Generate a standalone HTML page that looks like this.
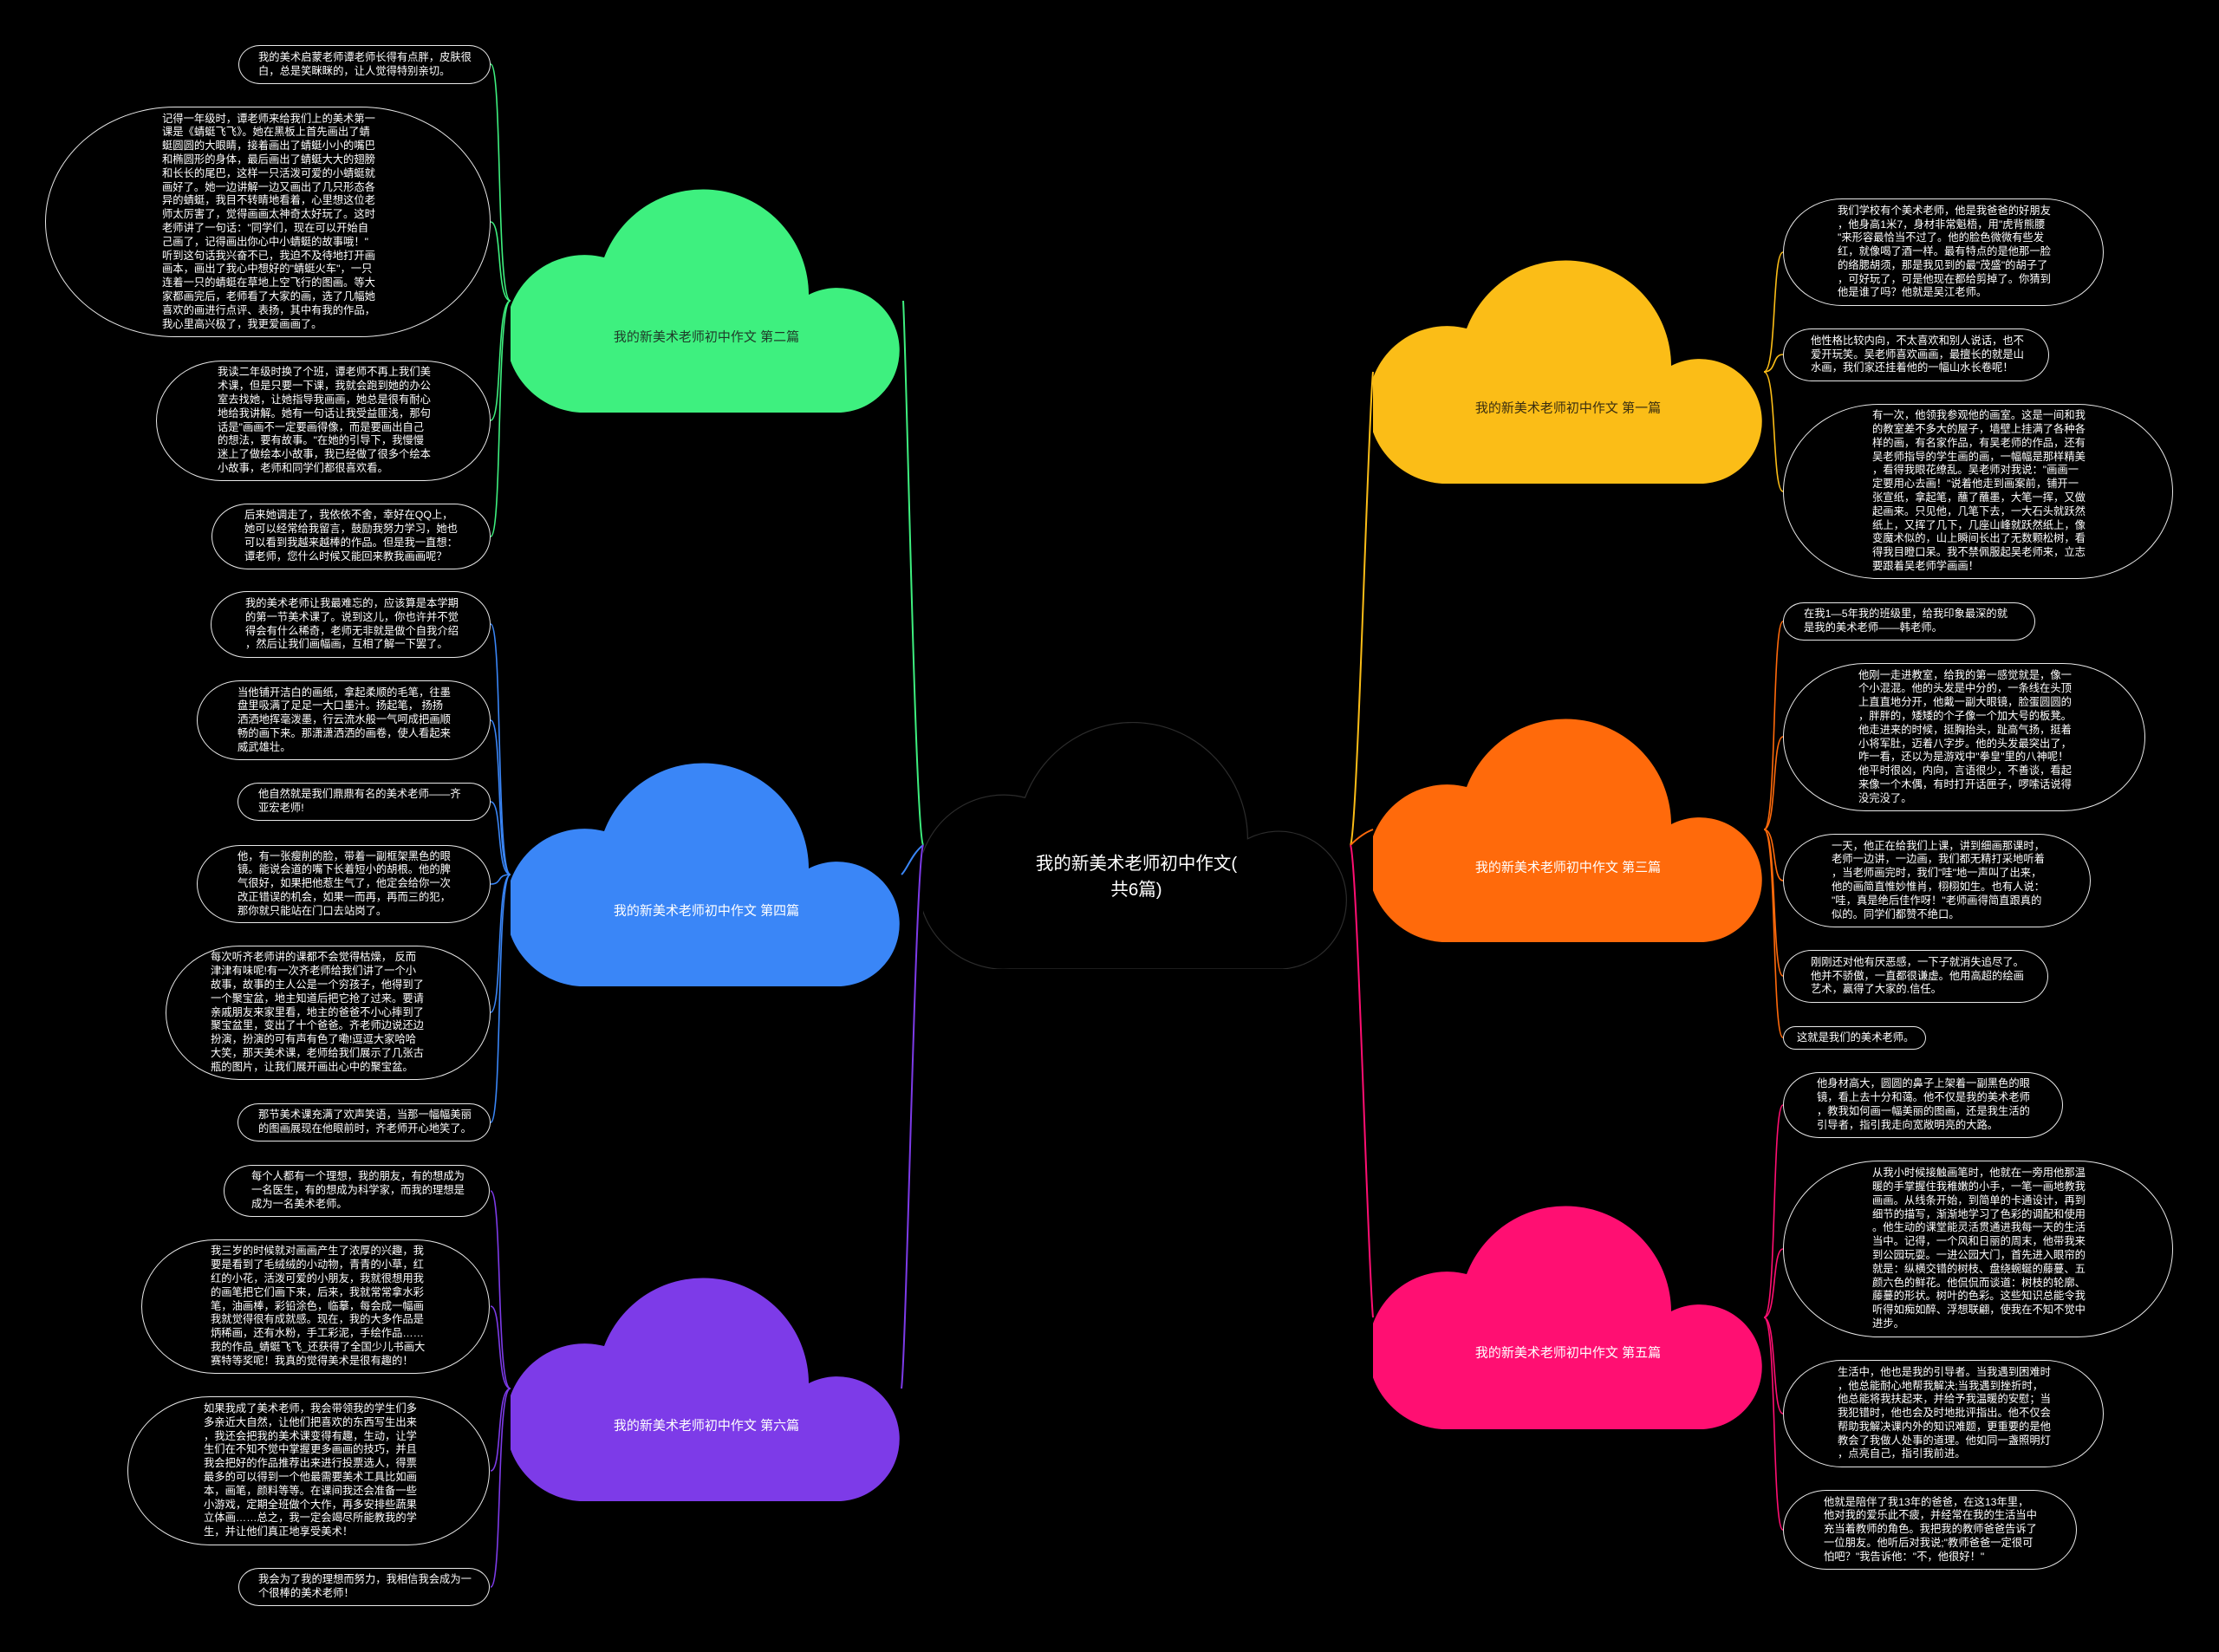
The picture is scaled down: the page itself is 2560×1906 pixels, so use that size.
<!DOCTYPE html>
<html><head><meta charset="utf-8">
<style>
html,body{margin:0;padding:0;background:#000;}
#c{position:relative;width:2560px;height:1906px;overflow:hidden;background:#000;font-family:"Liberation Sans","Noto Sans CJK SC",sans-serif;}
.b{position:absolute;box-sizing:border-box;border:1.5px solid #e8e8e8;display:flex;align-items:center;color:#fff;font-size:12.3px;line-height:15.8px;white-space:pre;}
.cl{position:absolute;}
.lbl{position:absolute;font-size:15px;white-space:nowrap;transform:translate(-50%,-50%);}
svg{position:absolute;left:0;top:0;}
</style></head><body><div id="c">

<svg width="2560" height="1906" viewBox="0 0 2560 1906" fill="none" stroke-width="2">
<!-- main -->
<path d="M1065,975 C1056,960 1046,420 1042,347" stroke="#3ef07f"/>
<path d="M1065,975 C1052,985 1046,1004 1040,1009" stroke="#3a86f7"/>
<path d="M1065,975 C1056,995 1046,1550 1040,1602" stroke="#7d3be8"/>
<path d="M1558,975 C1566,960 1578,490 1584,429" stroke="#fbbd17"/>
<path d="M1558,975 C1568,965 1576,960 1584,957" stroke="#ff6a0b"/>
<path d="M1558,975 C1566,995 1578,1460 1584,1520" stroke="#ff0f72"/>
<g stroke="#3ef07f" stroke-width="1.6">
<path d="M589,347 C572,347 580,74 566,74"/><path d="M589,347 C572,347 580,256 566,256"/>
<path d="M589,347 C572,347 580,485 566,485"/><path d="M589,347 C572,347 580,619 566,619"/>
</g>
<g stroke="#3a86f7" stroke-width="1.6">
<path d="M589,1009 C572,1009 580,720 566,720"/><path d="M589,1009 C572,1009 580,831 566,831"/>
<path d="M589,1009 C572,1009 580,925 566,925"/><path d="M589,1009 C572,1009 580,1020 566,1020"/>
<path d="M589,1009 C572,1009 580,1168 566,1168"/><path d="M589,1009 C572,1009 580,1295 566,1295"/>
</g>
<g stroke="#7d3be8" stroke-width="1.6">
<path d="M589,1602 C572,1602 580,1374 566,1374"/><path d="M589,1602 C572,1602 580,1507 566,1507"/>
<path d="M589,1602 C572,1602 580,1697 566,1697"/><path d="M589,1602 C572,1602 580,1831 566,1831"/>
</g>
<g stroke="#fbbd17" stroke-width="1.6">
<path d="M2035,429 C2050,429 2044,291 2057,291"/><path d="M2035,429 C2050,429 2044,409 2057,409"/>
<path d="M2035,429 C2050,429 2044,567 2057,567"/>
</g>
<g stroke="#ff6a0b" stroke-width="1.6">
<path d="M2035,957 C2050,957 2044,717 2057,717"/><path d="M2035,957 C2050,957 2044,850 2057,850"/>
<path d="M2035,957 C2050,957 2044,1016 2057,1016"/><path d="M2035,957 C2050,957 2044,1126 2057,1126"/>
<path d="M2035,957 C2050,957 2044,1197 2057,1197"/>
</g>
<g stroke="#ff0f72" stroke-width="1.6">
<path d="M2035,1520 C2050,1520 2044,1275 2057,1275"/><path d="M2035,1520 C2050,1520 2044,1441 2057,1441"/>
<path d="M2035,1520 C2050,1520 2044,1631 2057,1631"/><path d="M2035,1520 C2050,1520 2044,1765 2057,1765"/>
</g>
</svg>

<!-- center cloud -->
<svg class="cl" style="left:1065px;top:833px" width="493" height="285" viewBox="0 0 453 258" preserveAspectRatio="none"><path d="M91,258 A91,91 0 1 1 108,79 A122,122 0 0 1 344,122 A72,72 0 1 1 381,258 Z" fill="#000" stroke="#2c2c2c" stroke-width="1.2" vector-effect="non-scaling-stroke"/></svg>
<div class="lbl" style="left:1311px;top:1012px;color:#fff;font-size:20.5px;line-height:30px;text-align:center;">我的新美术老师初中作文(<br>共6篇)</div>

<!-- topic clouds -->
<svg class="cl" style="left:589px;top:218px" width="453" height="258" viewBox="0 0 453 258"><path d="M91,258 A91,91 0 1 1 108,79 A122,122 0 0 1 344,122 A72,72 0 1 1 381,258 Z" fill="#3ef07f"/></svg>
<div class="lbl" style="left:815px;top:388px;color:#1e3a28;">我的新美术老师初中作文 第二篇</div>

<svg class="cl" style="left:589px;top:880px" width="453" height="258" viewBox="0 0 453 258"><path d="M91,258 A91,91 0 1 1 108,79 A122,122 0 0 1 344,122 A72,72 0 1 1 381,258 Z" fill="#3a86f7"/></svg>
<div class="lbl" style="left:815px;top:1050px;color:#fff;">我的新美术老师初中作文 第四篇</div>

<svg class="cl" style="left:589px;top:1474px" width="453" height="258" viewBox="0 0 453 258"><path d="M91,258 A91,91 0 1 1 108,79 A122,122 0 0 1 344,122 A72,72 0 1 1 381,258 Z" fill="#7d3be8"/></svg>
<div class="lbl" style="left:815px;top:1644px;color:#fff;">我的新美术老师初中作文 第六篇</div>

<svg class="cl" style="left:1584px;top:300px" width="453" height="258" viewBox="0 0 453 258"><path d="M91,258 A91,91 0 1 1 108,79 A122,122 0 0 1 344,122 A72,72 0 1 1 381,258 Z" fill="#fbbd17"/></svg>
<div class="lbl" style="left:1809px;top:470px;color:#3a2e10;">我的新美术老师初中作文 第一篇</div>

<svg class="cl" style="left:1584px;top:829px" width="453" height="258" viewBox="0 0 453 258"><path d="M91,258 A91,91 0 1 1 108,79 A122,122 0 0 1 344,122 A72,72 0 1 1 381,258 Z" fill="#ff6a0b"/></svg>
<div class="lbl" style="left:1809px;top:1000px;color:#fff;">我的新美术老师初中作文 第三篇</div>

<svg class="cl" style="left:1584px;top:1391px" width="453" height="258" viewBox="0 0 453 258"><path d="M91,258 A91,91 0 1 1 108,79 A122,122 0 0 1 344,122 A72,72 0 1 1 381,258 Z" fill="#ff0f72"/></svg>
<div class="lbl" style="left:1809px;top:1560px;color:#fff;">我的新美术老师初中作文 第五篇</div>

<!-- left green boxes -->
<div class="b" style="left:275px;top:52px;width:291px;height:45px;border-radius:25px/50%;padding-left:22px;">我的美术启蒙老师谭老师长得有点胖，皮肤很
白，总是笑眯眯的，让人觉得特别亲切。</div>
<div class="b" style="left:52px;top:123px;width:514px;height:266px;border-radius:150px/50%;padding-left:134px;">记得一年级时，谭老师来给我们上的美术第一
课是《蜻蜓飞飞》。她在黑板上首先画出了蜻
蜓圆圆的大眼睛，接着画出了蜻蜓小小的嘴巴
和椭圆形的身体，最后画出了蜻蜓大大的翅膀
和长长的尾巴，这样一只活泼可爱的小蜻蜓就
画好了。她一边讲解一边又画出了几只形态各
异的蜻蜓，我目不转睛地看着，心里想这位老
师太厉害了，觉得画画太神奇太好玩了。这时
老师讲了一句话："同学们，现在可以开始自
己画了，记得画出你心中小蜻蜓的故事哦！"
听到这句话我兴奋不已，我迫不及待地打开画
画本，画出了我心中想好的"蜻蜓火车"，一只
连着一只的蜻蜓在草地上空飞行的图画。等大
家都画完后，老师看了大家的画，选了几幅她
喜欢的画进行点评、表扬，其中有我的作品，
我心里高兴极了，我更爱画画了。</div>
<div class="b" style="left:180px;top:416px;width:386px;height:139px;border-radius:76px/50%;padding-left:70px;">我读二年级时换了个班，谭老师不再上我们美
术课，但是只要一下课，我就会跑到她的办公
室去找她，让她指导我画画，她总是很有耐心
地给我讲解。她有一句话让我受益匪浅，那句
话是"画画不一定要画得像，而是要画出自己
的想法，要有故事。"在她的引导下，我慢慢
迷上了做绘本小故事，我已经做了很多个绘本
小故事，老师和同学们都很喜欢看。</div>
<div class="b" style="left:244px;top:581px;width:322px;height:76px;border-radius:42px/50%;padding-left:37px;">后来她调走了，我依依不舍，幸好在QQ上，
她可以经常给我留言，鼓励我努力学习，她也
可以看到我越来越棒的作品。但是我一直想：
谭老师，您什么时候又能回来教我画画呢？</div>

<!-- left blue boxes -->
<div class="b" style="left:243px;top:682px;width:323px;height:77px;border-radius:42px/50%;padding-left:39px;">我的美术老师让我最难忘的，应该算是本学期
的第一节美术课了。说到这儿，你也许并不觉
得会有什么稀奇，老师无非就是做个自我介绍
，然后让我们画幅画，互相了解一下罢了。</div>
<div class="b" style="left:227px;top:785px;width:339px;height:92px;border-radius:50px/50%;padding-left:46px;">当他铺开洁白的画纸，拿起柔顺的毛笔，往墨
盘里吸满了足足一大口墨汁。扬起笔， 扬扬
洒洒地挥毫泼墨，行云流水般一气呵成把画顺
畅的画下来。那潇潇洒洒的画卷，使人看起来
威武雄壮。</div>
<div class="b" style="left:274px;top:903px;width:292px;height:44px;border-radius:24px/50%;padding-left:23px;">他自然就是我们鼎鼎有名的美术老师——齐
亚宏老师!</div>
<div class="b" style="left:227px;top:975px;width:339px;height:90px;border-radius:50px/50%;padding-left:46px;">他，有一张瘦削的脸，带着一副框架黑色的眼
镜。能说会道的嘴下长着短小的胡根。他的脾
气很好，如果把他惹生气了，他定会给你一次
改正错误的机会，如果一而再，再而三的犯，
那你就只能站在门口去站岗了。</div>
<div class="b" style="left:191px;top:1091px;width:375px;height:155px;border-radius:85px/50%;padding-left:51px;">每次听齐老师讲的课都不会觉得枯燥， 反而
津津有味呢!有一次齐老师给我们讲了一个小
故事，故事的主人公是一个穷孩子，他得到了
一个聚宝盆，地主知道后把它抢了过来。要请
亲戚朋友来家里看，地主的爸爸不小心摔到了
聚宝盆里，变出了十个爸爸。齐老师边说还边
扮演，扮演的可有声有色了嘞!逗逗大家哈哈
大笑，那天美术课，老师给我们展示了几张古
瓶的图片，让我们展开画出心中的聚宝盆。</div>
<div class="b" style="left:274px;top:1273px;width:292px;height:44px;border-radius:24px/50%;padding-left:23px;">那节美术课充满了欢声笑语，当那一幅幅美丽
的图画展现在他眼前时，齐老师开心地笑了。</div>

<!-- left purple boxes -->
<div class="b" style="left:258px;top:1344px;width:307px;height:60px;border-radius:33px/50%;padding-left:31px;">每个人都有一个理想，我的朋友，有的想成为
一名医生，有的想成为科学家，而我的理想是
成为一名美术老师。</div>
<div class="b" style="left:163px;top:1430px;width:402px;height:155px;border-radius:85px/50%;padding-left:79px;">我三岁的时候就对画画产生了浓厚的兴趣，我
要是看到了毛绒绒的小动物，青青的小草，红
红的小花，活泼可爱的小朋友，我就很想用我
的画笔把它们画下来，后来，我就常常拿水彩
笔，油画棒，彩铅涂色，临摹，每会成一幅画
我就觉得很有成就感。现在，我的大多作品是
炳稀画，还有水粉，手工彩泥，手绘作品……
我的作品_蜻蜓飞飞_还获得了全国少儿书画大
赛特等奖呢！我真的觉得美术是很有趣的！</div>
<div class="b" style="left:147px;top:1611px;width:418px;height:172px;border-radius:95px/50%;padding-left:87px;">如果我成了美术老师，我会带领我的学生们多
多亲近大自然，让他们把喜欢的东西写生出来
，我还会把我的美术课变得有趣，生动，让学
生们在不知不觉中掌握更多画画的技巧，并且
我会把好的作品推荐出来进行投票选人，得票
最多的可以得到一个他最需要美术工具比如画
本，画笔，颜料等等。在课间我还会准备一些
小游戏，定期全班做个大作，再多安排些蔬果
立体画……总之，我一定会竭尽所能教我的学
生，并让他们真正地享受美术！</div>
<div class="b" style="left:275px;top:1809px;width:290px;height:44px;border-radius:24px/50%;padding-left:22px;">我会为了我的理想而努力，我相信我会成为一
个很棒的美术老师！</div>

<!-- right yellow boxes -->
<div class="b" style="left:2057px;top:229px;width:370px;height:124px;border-radius:68px/50%;padding-left:62px;">我们学校有个美术老师，他是我爸爸的好朋友
，他身高1米7，身材非常魁梧，用"虎背熊腰
"来形容最恰当不过了。他的脸色微微有些发
红，就像喝了酒一样。最有特点的是他那一脸
的络腮胡须，那是我见到的最"茂盛"的胡子了
，可好玩了，可是他现在都给剪掉了。你猜到
他是谁了吗？他就是吴江老师。</div>
<div class="b" style="left:2057px;top:379px;width:307px;height:61px;border-radius:33px/50%;padding-left:31px;">他性格比较内向，不太喜欢和别人说话，也不
爱开玩笑。吴老师喜欢画画，最擅长的就是山
水画，我们家还挂着他的一幅山水长卷呢！</div>
<div class="b" style="left:2057px;top:466px;width:450px;height:202px;border-radius:110px/50%;padding-left:102px;">有一次，他领我参观他的画室。这是一间和我
的教室差不多大的屋子，墙壁上挂满了各种各
样的画，有名家作品，有吴老师的作品，还有
吴老师指导的学生画的画，一幅幅是那样精美
，看得我眼花缭乱。吴老师对我说："画画一
定要用心去画！"说着他走到画案前，铺开一
张宣纸，拿起笔，蘸了蘸墨，大笔一挥，又做
起画来。只见他，几笔下去，一大石头就跃然
纸上，又挥了几下，几座山峰就跃然纸上，像
变魔术似的，山上瞬间长出了无数颗松树，看
得我目瞪口呆。我不禁佩服起吴老师来，立志
要跟着吴老师学画画！</div>

<!-- right orange boxes -->
<div class="b" style="left:2057px;top:695px;width:291px;height:44px;border-radius:24px/50%;padding-left:23px;">在我1—5年我的班级里，给我印象最深的就
是我的美术老师——韩老师。</div>
<div class="b" style="left:2057px;top:765px;width:418px;height:171px;border-radius:95px/50%;padding-left:86px;">他刚一走进教室，给我的第一感觉就是，像一
个小混混。他的头发是中分的，一条线在头顶
上直直地分开，他戴一副大眼镜，脸蛋圆圆的
，胖胖的，矮矮的个子像一个加大号的板凳。
他走进来的时候，挺胸抬头，趾高气扬，挺着
小将军肚，迈着八字步。他的头发最突出了，
咋一看，还以为是游戏中"拳皇"里的八神呢！
他平时很凶，内向，言语很少，不善谈，看起
来像一个木偶，有时打开话匣子，啰嗦话说得
没完没了。</div>
<div class="b" style="left:2057px;top:962px;width:355px;height:108px;border-radius:60px/50%;padding-left:55px;">一天，他正在给我们上课，讲到细画那课时，
老师一边讲，一边画，我们都无精打采地听着
，当老师画完时，我们"哇"地一声叫了出来，
他的画简直惟妙惟肖，栩栩如生。也有人说：
"哇，真是绝后佳作呀！"老师画得简直跟真的
似的。同学们都赞不绝口。</div>
<div class="b" style="left:2057px;top:1096px;width:306px;height:61px;border-radius:33px/50%;padding-left:31px;">刚刚还对他有厌恶感，一下子就消失追尽了。
他并不骄傲，一直都很谦虚。他用高超的绘画
艺术，赢得了大家的.信任。</div>
<div class="b" style="left:2057px;top:1184px;width:165px;height:27px;border-radius:14px/50%;padding-left:15px;">这就是我们的美术老师。</div>

<!-- right pink boxes -->
<div class="b" style="left:2057px;top:1237px;width:323px;height:76px;border-radius:42px/50%;padding-left:38px;">他身材高大，圆圆的鼻子上架着一副黑色的眼
镜，看上去十分和蔼。他不仅是我的美术老师
，教我如何画一幅美丽的图画，还是我生活的
引导者，指引我走向宽敞明亮的大路。</div>
<div class="b" style="left:2057px;top:1339px;width:450px;height:204px;border-radius:110px/50%;padding-left:102px;">从我小时候接触画笔时，他就在一旁用他那温
暖的手掌握住我稚嫩的小手，一笔一画地教我
画画。从线条开始，到简单的卡通设计，再到
细节的描写，渐渐地学习了色彩的调配和使用
。他生动的课堂能灵活贯通进我每一天的生活
当中。记得，一个风和日丽的周末，他带我来
到公园玩耍。一进公园大门，首先进入眼帘的
就是：纵横交错的树枝、盘绕蜿蜒的藤蔓、五
颜六色的鲜花。他侃侃而谈道：树枝的轮廓、
藤蔓的形状。树叶的色彩。这些知识总能令我
听得如痴如醉、浮想联翩，使我在不知不觉中
进步。</div>
<div class="b" style="left:2057px;top:1569px;width:370px;height:124px;border-radius:68px/50%;padding-left:62px;">生活中，他也是我的引导者。当我遇到困难时
，他总能耐心地帮我解决;当我遇到挫折时，
他总能将我扶起来，并给予我温暖的安慰；当
我犯错时，他也会及时地批评指出。他不仅会
帮助我解决课内外的知识难题，更重要的是他
教会了我做人处事的道理。他如同一盏照明灯
，点亮自己，指引我前进。</div>
<div class="b" style="left:2057px;top:1719px;width:339px;height:92px;border-radius:50px/50%;padding-left:46px;">他就是陪伴了我13年的爸爸，在这13年里，
他对我的爱乐此不疲，并经常在我的生活当中
充当着教师的角色。我把我的教师爸爸告诉了
一位朋友。他听后对我说;"教师爸爸一定很可
怕吧？"我告诉他："不，他很好！"</div>

</div></body></html>
